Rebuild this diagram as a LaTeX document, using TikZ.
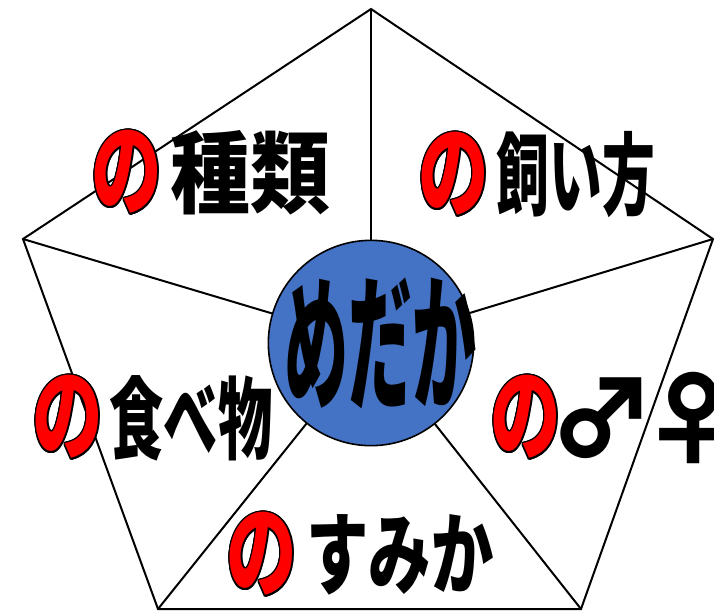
\documentclass[tikz,border=0pt]{standalone}
\usepackage{fontspec}
\newfontfamily\jpfont{Noto Sans CJK JP}
\usepackage{contour}
\contourlength{1.1pt}
\definecolor{medaka}{HTML}{4472C4}
\tikzstyle{no} = [inner sep=0pt, font=\jpfont\bfseries\fontsize{60}{60}\selectfont]
\tikzstyle{word} = [inner sep=0pt, font=\jpfont\bfseries\fontsize{60}{60}\selectfont]
\newcommand{\redno}{\scalebox{0.88}[1.28]{\contour{black}{\textcolor{red}{の}}}}

\begin{document}
\begin{tikzpicture}[x=0.75pt,y=-0.75pt,line width=1.5pt]
    \useasboundingbox (0,0) rectangle (714,612);
    \coordinate (top) at (371,9);
    \coordinate (rt) at (713,239);
    \coordinate (br) at (581,609);
    \coordinate (bl) at (158,609);
    \coordinate (lt) at (23,239);
    \coordinate (c) at (371,343);
    \draw (top) -- (rt) -- (br) -- (bl) -- (lt) -- cycle;
    \draw (c) -- (top);
    \draw (c) -- (rt);
    \draw (c) -- (br);
    \draw (c) -- (bl);
    \draw (c) -- (lt);
    \node (fish) at (c) [circle, draw, line width=1.2pt, fill=medaka, minimum size=154pt] {};
    \node (name) at (380,343) [word] {\scalebox{0.8}[1.85]{めだか}};
    % labels
    \node (no1) at (127,173) [no] {\redno};
    \node (kind) at (250,173) [word] {\scalebox{1}[1.12]{種類}};
    \node (no2) at (454,175) [no] {\redno};
    \node (care) at (576,175) [word] {\scalebox{0.66}[1.12]{飼い方}};
    \node (no3) at (526,418) [no] {\redno};
    \node (male) at (601,418) [word] {\scalebox{1.3}[1.3]{♂}};
    \node (female) at (693,418) [word] {\scalebox{1.3}[1.3]{♀}};
    \node (no4) at (68,418) [no] {\redno};
    \node (food) at (191,418) [word] {\scalebox{0.68}[1.12]{食べ物}};
    \node (no5) at (262,555) [no] {\redno};
    \node (home) at (400,555) [word] {\scalebox{0.78}[1.12]{すみか}};
  \end{tikzpicture}
\end{document}
